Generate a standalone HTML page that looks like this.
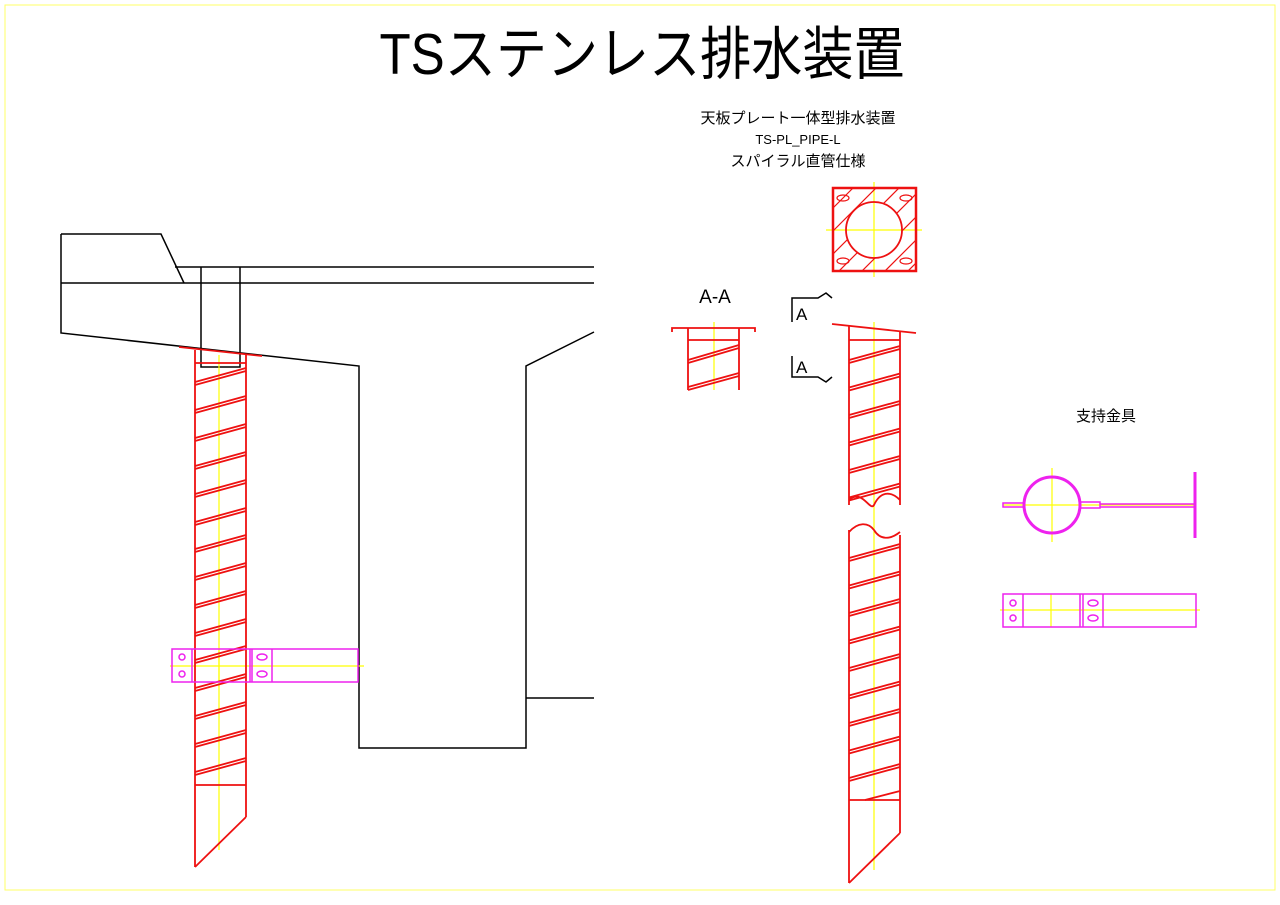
<!DOCTYPE html>
<html><head><meta charset="utf-8"><style>body{margin:0;background:#fff}svg{display:block}text{font-family:"Liberation Sans","Noto Sans CJK JP",sans-serif}</style></head><body>
<svg width="1280" height="905" viewBox="0 0 1280 905" xmlns="http://www.w3.org/2000/svg">
<defs>
<mask id="m"><rect x="833" y="188" width="83" height="83" fill="#fff"/><circle cx="874" cy="230" r="28" fill="#000"/></mask>
</defs>
<rect x="5" y="5" width="1270" height="885" fill="none" stroke="#ffff66" stroke-width="1"/>
<text x="642" y="64" font-size="48" text-anchor="middle" textLength="525" lengthAdjust="spacingAndGlyphs" transform="translate(0,-3) scale(1,1.2)">TSステンレス排水装置</text>
<text x="798" y="123" font-size="15" text-anchor="middle">天板プレート一体型排水装置</text>
<text x="798" y="144" font-size="13" text-anchor="middle">TS-PL_PIPE-L</text>
<text x="798" y="166" font-size="15" text-anchor="middle">スパイラル直管仕様</text>
<text x="1106" y="421" font-size="15" text-anchor="middle">支持金具</text>
<text x="715" y="303" font-size="19" text-anchor="middle">A-A</text>
<g fill="none" stroke="#000" stroke-width="1.5">
<polyline points="61,234 161,234 184,283"/>
<polyline points="61,234 61,333 359,366 359,748 526,748 526,366 594,332"/>
<line x1="175" y1="267" x2="594" y2="267"/><line x1="61" y1="283" x2="594" y2="283"/>
<line x1="526" y1="698" x2="594" y2="698"/>
<polyline points="201,267 201,367 240,367 240,267"/>
<polyline points="792,322 792,298 818,298 826,293 832,298"/>
<polyline points="792,356 792,377 818,377 826,382 832,377"/>
</g>
<text x="796" y="320" font-size="17">A</text><text x="796" y="373" font-size="17">A</text>
<g stroke="#ffff00" stroke-width="1.2">
<line x1="219" y1="355" x2="219" y2="850"/>
<line x1="874" y1="322" x2="874" y2="870"/>
<line x1="714" y1="322" x2="714" y2="390"/>
<line x1="874" y1="182" x2="874" y2="277"/><line x1="826" y1="230" x2="922" y2="230"/>
<line x1="1052" y1="468" x2="1052" y2="542"/><line x1="1003" y1="505" x2="1196" y2="505"/>
<line x1="1000" y1="610" x2="1200" y2="610"/><line x1="1051" y1="594" x2="1051" y2="627"/>
<line x1="170" y1="666" x2="364" y2="666"/><line x1="219" y1="649" x2="219" y2="682"/>
</g>
<g fill="none" stroke="#ee1111" stroke-width="1.8">
<line x1="179" y1="347" x2="262" y2="356"/>
<line x1="195" y1="350" x2="195" y2="867"/><line x1="246" y1="355" x2="246" y2="817"/>
<line x1="195" y1="363" x2="246" y2="363"/><line x1="195" y1="785" x2="246" y2="785"/>
<line x1="246" y1="817" x2="195" y2="867"/>
<g id="sp">
<line x1="195" y1="382" x2="246" y2="368"/><line x1="195" y1="385" x2="246" y2="371"/>
</g>
<use href="#sp" y="28"/><use href="#sp" y="56"/><use href="#sp" y="84"/><use href="#sp" y="112"/><use href="#sp" y="140"/><use href="#sp" y="167"/><use href="#sp" y="195"/><use href="#sp" y="223"/><use href="#sp" y="251"/><use href="#sp" y="278"/><use href="#sp" y="306"/><use href="#sp" y="334"/><use href="#sp" y="362"/><use href="#sp" y="390"/>
<line x1="832" y1="324" x2="916" y2="333"/>
<line x1="849" y1="326" x2="849" y2="505"/><line x1="900" y1="331" x2="900" y2="505"/>
<line x1="849" y1="340" x2="900" y2="340"/>
<path d="M849,500 C862,488 870,512 874,505 C880,492 890,490 900,500"/>
<path d="M849,532 C858,522 868,522 874,530 C880,540 890,540 900,532"/>
<line x1="849" y1="530" x2="849" y2="883"/><line x1="900" y1="535" x2="900" y2="833"/>
<line x1="849" y1="800" x2="900" y2="800"/><line x1="900" y1="833" x2="849" y2="883"/>
<line x1="865" y1="800" x2="900" y2="791"/>
<g id="sp2"><line x1="849" y1="360" x2="900" y2="346"/><line x1="849" y1="363" x2="900" y2="349"/></g>
<use href="#sp2" y="27.5"/><use href="#sp2" y="55"/><use href="#sp2" y="82.5"/><use href="#sp2" y="110"/><use href="#sp2" y="137.5"/>
<use href="#sp2" y="198"/><use href="#sp2" y="225.5"/><use href="#sp2" y="253"/><use href="#sp2" y="280.5"/><use href="#sp2" y="308"/><use href="#sp2" y="335.5"/><use href="#sp2" y="363"/><use href="#sp2" y="390.5"/><use href="#sp2" y="418"/>
<polyline points="672,332 672,328 755,328 755,332"/>
<line x1="688" y1="328" x2="688" y2="390"/><line x1="739" y1="328" x2="739" y2="390"/>
<line x1="688" y1="340" x2="739" y2="340"/>
<line x1="688" y1="360" x2="739" y2="345"/><line x1="688" y1="363" x2="739" y2="348"/>
<line x1="688" y1="387" x2="739" y2="373"/><line x1="688" y1="390" x2="739" y2="376"/>
<rect x="833" y="188" width="83" height="83" stroke-width="2.5"/>
<circle cx="874" cy="230" r="28"/>
<g stroke-width="1.2" mask="url(#m)">
<line x1="813" y1="228" x2="873" y2="168"/><line x1="813" y1="251" x2="896" y2="168"/>
<line x1="813" y1="274" x2="919" y2="168"/><line x1="813" y1="297" x2="942" y2="168"/>
<line x1="813" y1="320" x2="965" y2="168"/><line x1="836" y1="320" x2="965" y2="191"/>
<line x1="859" y1="320" x2="965" y2="214"/><line x1="882" y1="320" x2="965" y2="237"/>
</g>
<g stroke-width="1.2"><ellipse cx="843" cy="198" rx="6" ry="3"/><ellipse cx="906" cy="198" rx="6" ry="3"/><ellipse cx="843" cy="261" rx="6" ry="3"/><ellipse cx="906" cy="261" rx="6" ry="3"/></g>
</g>
<g fill="none" stroke="#ee22ee" stroke-width="1.5">
<circle cx="1052" cy="505" r="28" stroke-width="3"/>
<rect x="1003" y="503" width="21" height="4"/>
<rect x="1080" y="502" width="20" height="6"/>
<line x1="1100" y1="504" x2="1196" y2="504"/><line x1="1100" y1="507" x2="1196" y2="507"/>
<line x1="1195" y1="472" x2="1195" y2="538" stroke-width="3"/>
<rect x="1003" y="594" width="193" height="33"/>
<line x1="1023" y1="594" x2="1023" y2="627"/><line x1="1080" y1="594" x2="1080" y2="627"/><line x1="1083" y1="594" x2="1083" y2="627"/><line x1="1103" y1="594" x2="1103" y2="627"/>
<ellipse cx="1093" cy="603" rx="5" ry="3"/><ellipse cx="1093" cy="618" rx="5" ry="3"/>
<circle cx="1013" cy="603" r="3"/><circle cx="1013" cy="618" r="3"/>
<rect x="172" y="649" width="186" height="33"/>
<line x1="192" y1="649" x2="192" y2="682"/><line x1="250" y1="649" x2="250" y2="682"/><line x1="252" y1="649" x2="252" y2="682"/><line x1="272" y1="649" x2="272" y2="682"/>
<ellipse cx="262" cy="657" rx="5" ry="3"/><ellipse cx="262" cy="674" rx="5" ry="3"/>
<circle cx="182" cy="657" r="3"/><circle cx="182" cy="674" r="3"/>
</g>
</svg>
</body></html>
